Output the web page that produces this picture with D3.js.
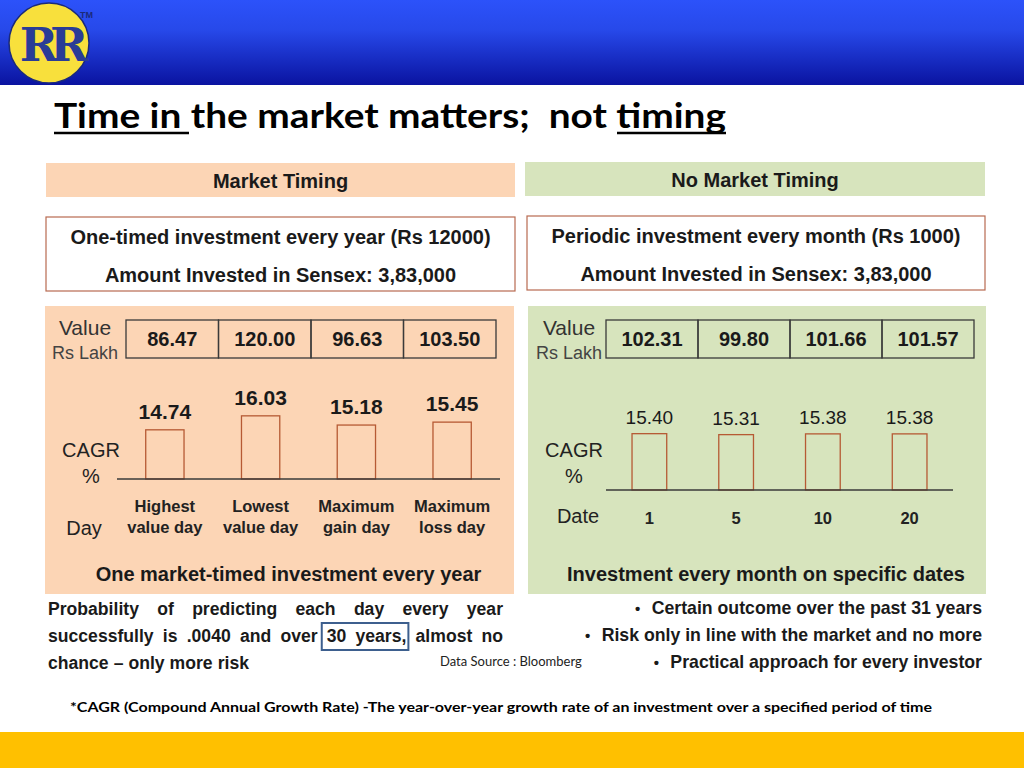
<!DOCTYPE html>
<html>
<head>
<meta charset="utf-8">
<script src="https://cdn.jsdelivr.net/npm/d3@7"></script>
<style>
  body { margin: 0; background: #fff; }
  svg { display: block; }
</style>
</head>
<body>
<script>
// data
var timedCategories = [["Highest", "value day"], ["Lowest", "value day"], ["Maximum", "gain day"], ["Maximum", "loss day"]];
var timedValues = [86.47, 120.00, 96.63, 103.50];
var timedCagr = [14.74, 16.03, 15.18, 15.45];

var sipDates = ["1", "5", "10", "20"];
var sipValues = [102.31, 99.80, 101.66, 101.57];
var sipCagr = [15.40, 15.31, 15.38, 15.38];

var probLines = [
  "Probability of predicting each day every year",
  "successfully is .0040 and over 30 years, almost no",
  "chance \u2013 only more risk"
];
var bullets = [
  "Certain outcome over the past 31 years",
  "Risk only in line with the market and no more",
  "Practical approach for every investor"
];

var w = 1024, h = 768;
var arial = "'Liberation Sans', Arial, sans-serif";
var calibri = "Lato, 'Open Sans', sans-serif";
var peach = "#fcd5b5", sage = "#d7e4bd", barStroke = "#b65a34";

var svg = d3.select("body").append("svg")
  .attr("width", w)
  .attr("height", h);

// header band
var defs = svg.append("defs");
var grad = defs.append("linearGradient").attr("id", "hdr")
  .attr("x1", 0).attr("y1", 0).attr("x2", 0).attr("y2", 1);
grad.append("stop").attr("offset", "0%").attr("stop-color", "#2c52fa");
grad.append("stop").attr("offset", "35%").attr("stop-color", "#2749ea");
grad.append("stop").attr("offset", "100%").attr("stop-color", "#0a13a0");
svg.append("rect").attr("x", 0).attr("y", 0).attr("width", w).attr("height", 85)
  .attr("fill", "url(#hdr)");

// logo
svg.append("circle").attr("cx", 49).attr("cy", 43).attr("r", 40)
  .attr("fill", "#f8e03c").attr("stroke", "#1b2a7a").attr("stroke-width", 1.5);
svg.append("text").attr("x", 50).attr("y", 61)
  .attr("text-anchor", "middle")
  .attr("font-family", "'DejaVu Serif', serif")
  .attr("font-weight", "bold")
  .attr("font-size", 46)
  .attr("letter-spacing", -8)
  .attr("fill", "#2a3c96")
  .text("RR");
svg.append("text").attr("x", 80).attr("y", 18)
  .attr("font-family", arial).attr("font-weight", "bold").attr("font-size", 9)
  .attr("fill", "#1b2a7a").text("TM");

// title
var title = svg.append("text").attr("x", 54).attr("y", 128)
  .attr("font-family", calibri).attr("font-weight", "bold").attr("font-size", 34)
  .attr("fill", "#000")
  .attr("textLength", 672).attr("lengthAdjust", "spacingAndGlyphs")
  .text("Time in\u00a0the market matters;\u00a0 not timing");
svg.append("line").attr("x1", 54).attr("x2", 189).attr("y1", 133).attr("y2", 133)
  .attr("stroke", "#000").attr("stroke-width", 2.5);
svg.append("line").attr("x1", 617).attr("x2", 726).attr("y1", 133).attr("y2", 133)
  .attr("stroke", "#000").attr("stroke-width", 2.5);

var yScale = d3.scaleLinear().domain([10.2, 16.2]).range([0, 65]);

function panel(o) {
  // title strip
  svg.append("rect").attr("x", o.x0).attr("y", o.stripY).attr("width", o.x1 - o.x0).attr("height", 34)
    .attr("fill", o.fill);
  svg.append("text").attr("x", (o.x0 + o.x1) / 2).attr("y", o.stripY + 25)
    .attr("text-anchor", "middle").attr("font-family", arial).attr("font-weight", "bold")
    .attr("font-size", 20).attr("fill", "#1a1a1a").text(o.stripText);

  // description box
  svg.append("rect").attr("x", o.bx0).attr("y", o.boxY).attr("width", o.bx1 - o.bx0).attr("height", 74)
    .attr("fill", "#fff").attr("stroke", "#b86a50").attr("stroke-width", 1.2);
  o.boxLines.forEach(function(t, i) {
    svg.append("text").attr("x", (o.bx0 + o.bx1) / 2).attr("y", o.boxY + 27 + i * 38)
      .attr("text-anchor", "middle").attr("font-family", arial).attr("font-weight", "bold")
      .attr("font-size", 20).attr("fill", "#1a1a1a").text(t);
  });

  // main panel
  svg.append("rect").attr("x", o.px0).attr("y", 306).attr("width", o.px1 - o.px0).attr("height", 288)
    .attr("fill", o.fill);

  // value table
  var tScale = d3.scaleBand().domain(d3.range(o.values.length)).range([o.tx0, o.tx1]);
  var g = svg.append("g");
  g.selectAll("rect.cell").data(o.values).enter().append("rect")
    .attr("class", "cell")
    .attr("x", function(d, i) { return tScale(i); })
    .attr("y", 320)
    .attr("width", tScale.bandwidth())
    .attr("height", 38)
    .attr("fill", "none").attr("stroke", "#3a3a3a").attr("stroke-width", 1.3);
  g.selectAll("text.val").data(o.values).enter().append("text")
    .attr("class", "val")
    .attr("x", function(d, i) { return tScale(i) + tScale.bandwidth() / 2; })
    .attr("y", 346)
    .attr("text-anchor", "middle").attr("font-family", arial).attr("font-weight", "bold")
    .attr("font-size", 20).attr("fill", "#1a1a1a")
    .text(function(d) { return d.toFixed(2); });
  svg.append("text").attr("x", o.labX).attr("y", 335).attr("text-anchor", "middle")
    .attr("font-family", arial).attr("font-size", 21).attr("fill", "#333").text("Value");
  svg.append("text").attr("x", o.labX).attr("y", 359).attr("text-anchor", "middle")
    .attr("font-family", arial).attr("font-size", 18).attr("fill", "#444").text("Rs Lakh");

  // bars
  var xScale = d3.scaleBand().domain(d3.range(o.cagr.length))
    .range([o.ax0, o.ax1]).paddingInner(0.6).paddingOuter(0.3);
  svg.selectAll(null).data(o.cagr).enter().append("rect")
    .attr("x", function(d, i) { return xScale(i); })
    .attr("y", function(d) { return o.base - yScale(d); })
    .attr("width", xScale.bandwidth())
    .attr("height", function(d) { return yScale(d); })
    .attr("fill", "none").attr("stroke", barStroke).attr("stroke-width", 1.3);
  svg.selectAll(null).data(o.cagr).enter().append("text")
    .attr("x", function(d, i) { return xScale(i) + xScale.bandwidth() / 2; })
    .attr("y", function(d) { return o.base - yScale(d) - o.labGap; })
    .attr("text-anchor", "middle").attr("font-family", arial)
    .attr("font-weight", o.cagrBold ? "bold" : "normal")
    .attr("font-size", o.cagrBold ? 21 : 19).attr("fill", "#1a1a1a")
    .text(function(d) { return d.toFixed(2); });
  svg.append("line").attr("x1", o.ax0).attr("x2", o.ax1).attr("y1", o.base).attr("y2", o.base)
    .attr("stroke", "#3a3a3a").attr("stroke-width", 1.3);

  svg.append("text").attr("x", o.cagrX).attr("y", 457).attr("text-anchor", "middle")
    .attr("font-family", arial).attr("font-size", 20).attr("fill", "#222").text("CAGR");
  svg.append("text").attr("x", o.cagrX).attr("y", 483).attr("text-anchor", "middle")
    .attr("font-family", arial).attr("font-size", 20).attr("fill", "#222").text("%");

  // category labels
  o.cats.forEach(function(c, i) {
    var lines = Array.isArray(c) ? c : [c];
    lines.forEach(function(t, j) {
      svg.append("text")
        .attr("x", xScale(i) + xScale.bandwidth() / 2)
        .attr("y", o.catY + j * 21)
        .attr("text-anchor", "middle").attr("font-family", arial).attr("font-weight", "bold")
        .attr("font-size", 16.5).attr("fill", "#222").text(t);
    });
  });
  svg.append("text").attr("x", o.axisLabX).attr("y", o.axisLabY).attr("text-anchor", "middle")
    .attr("font-family", arial).attr("font-size", 20).attr("fill", "#222").text(o.axisLab);

  svg.append("text").attr("x", (o.px0 + o.px1) / 2 + o.footDx).attr("y", 581)
    .attr("text-anchor", "middle").attr("font-family", arial).attr("font-weight", "bold")
    .attr("font-size", 20).attr("fill", "#1a1a1a").text(o.foot);
}

panel({
  x0: 46, x1: 515, stripY: 163, fill: peach, stripText: "Market Timing",
  bx0: 46, bx1: 515, boxY: 217,
  boxLines: ["One-timed investment every year (Rs 12000)", "Amount Invested in Sensex: 3,83,000"],
  px0: 45, px1: 514,
  values: timedValues, tx0: 126, tx1: 496, labX: 85,
  cagr: timedCagr, cagrBold: true, ax0: 117, ax1: 500, base: 479, labGap: 11,
  cagrX: 91, cats: timedCategories, catY: 512,
  axisLab: "Day", axisLabX: 84, axisLabY: 535,
  foot: "One market-timed investment every year", footDx: 9
});

panel({
  x0: 525, x1: 985, stripY: 162, fill: sage, stripText: "No Market Timing",
  bx0: 527, bx1: 985, boxY: 216,
  boxLines: ["Periodic investment every month (Rs 1000)", "Amount Invested in Sensex: 3,83,000"],
  px0: 528, px1: 986,
  values: sipValues, tx0: 606, tx1: 974, labX: 569,
  cagr: sipCagr, cagrBold: false, ax0: 606, ax1: 953, base: 490, labGap: 10,
  cagrX: 574, cats: sipDates, catY: 524,
  axisLab: "Date", axisLabX: 578, axisLabY: 523,
  foot: "Investment every month on specific dates", footDx: 9
});

// justified paragraph, bottom left
var px0 = 48, px1 = 503;
probLines.forEach(function(line, li) {
  var words = line.split(" ");
  var y = 615 + li * 27;
  var nodes = words.map(function(wd) {
    return svg.append("text").attr("y", y)
      .attr("font-family", arial).attr("font-weight", "bold")
      .attr("font-size", 17.6).attr("fill", "#1a1a1a").text(wd);
  });
  var widths = nodes.map(function(n) { return n.node().getComputedTextLength(); });
  var total = d3.sum(widths);
  var last = li === probLines.length - 1;
  var gap = last ? 5 : (px1 - px0 - total) / (words.length - 1);
  var x = px0;
  nodes.forEach(function(n, i) {
    n.attr("x", x);
    if (words[i] === "years,") {
      var bx = +nodes[i - 1].attr("x") - 5;
      svg.append("rect").attr("x", bx).attr("y", y - 19)
        .attr("width", x + widths[i] - bx + 2).attr("height", 27)
        .attr("fill", "none").attr("stroke", "#3d5f8e").attr("stroke-width", 2);
    }
    x += widths[i] + gap;
  });
});

svg.append("text").attr("x", 440).attr("y", 666)
  .attr("font-family", calibri).attr("font-size", 13).attr("fill", "#222")
  .text("Data Source : Bloomberg");

// bullets, right aligned
bullets.forEach(function(b, i) {
  var t = svg.append("text").attr("x", 982).attr("y", 614 + i * 27)
    .attr("text-anchor", "end").attr("font-family", arial).attr("font-weight", "bold")
    .attr("font-size", 17.7).attr("fill", "#1a1a1a").text(b);
  var tw = t.node().getComputedTextLength();
  svg.append("text").attr("x", 982 - tw - 14).attr("y", 614 + i * 27)
    .attr("text-anchor", "middle").attr("font-family", arial).attr("font-weight", "bold")
    .attr("font-size", 15).attr("fill", "#1a1a1a").text("\u2022");
});

// footnote
svg.append("text").attr("x", 70).attr("y", 712)
  .attr("font-family", calibri).attr("font-weight", "bold").attr("font-size", 14)
  .attr("fill", "#000")
  .attr("textLength", 862).attr("lengthAdjust", "spacingAndGlyphs")
  .text("*CAGR (Compound Annual Growth Rate) -The year-over-year growth rate of an investment over a specified period of time");

// bottom band
svg.append("rect").attr("x", 0).attr("y", 732).attr("width", w).attr("height", 36)
  .attr("fill", "#ffc000");
</script>
</body>
</html>
